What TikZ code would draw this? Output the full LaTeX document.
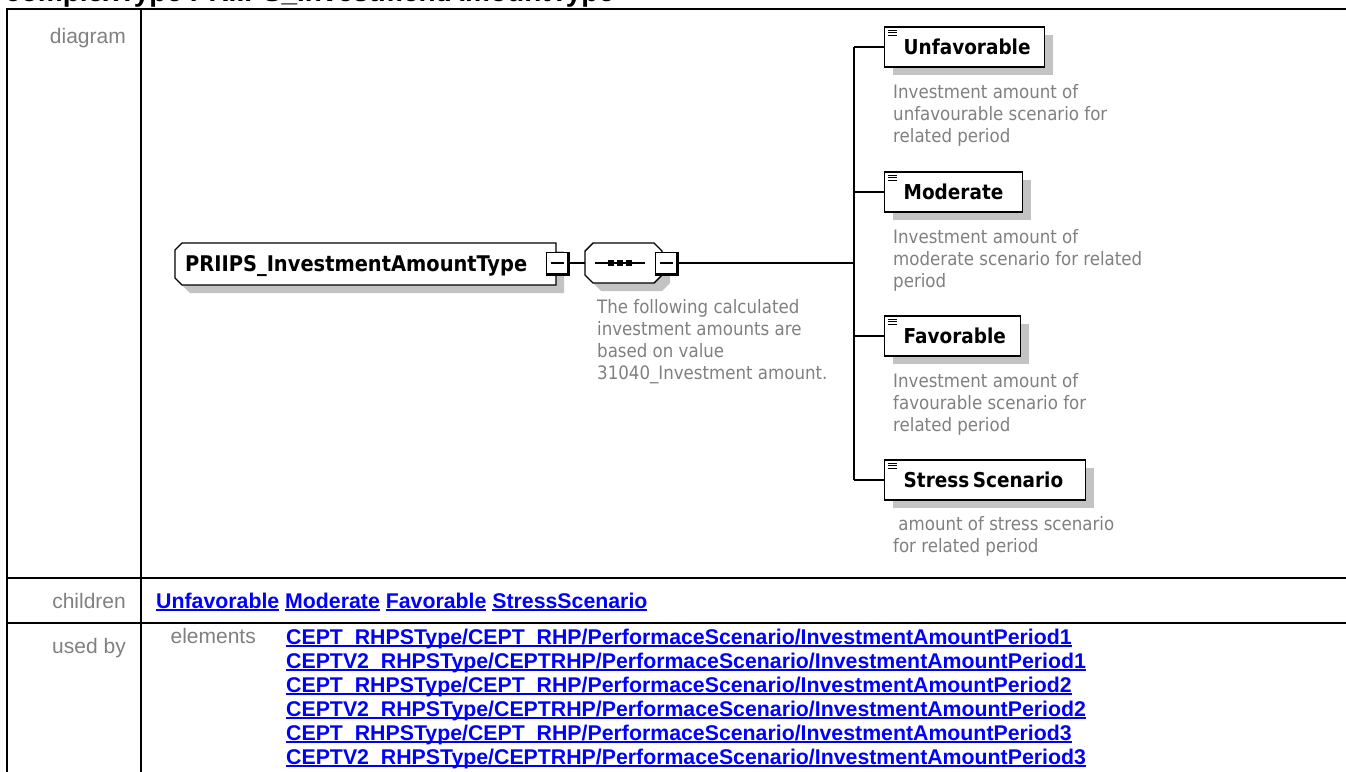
\documentclass[tikz,border=0pt]{standalone}
\usepackage{fontspec}
\setmainfont{Liberation Sans}
\newfontfamily\dvc{DejaVu Sans Condensed}
\usetikzlibrary{calc,shadows}
\definecolor{lblgray}{RGB}{128,128,128}
\definecolor{dscgray}{RGB}{128,128,128}
\definecolor{lnkblue}{RGB}{0,0,255}
\definecolor{shdgray}{RGB}{195,195,195}
\newcommand\lnkul[1]{\setbox0\hbox{#1}\rlap{\color{lnkblue}\rule[-2.6pt]{\wd0}{1.7pt}}\box0\relax}
\begin{document}
\begin{tikzpicture}[x=1pt,y=-1pt,
  tline/.style={line width=2pt},
  lbl/.style={anchor=base east, inner sep=0, text=lblgray, font=\fontsize{21}{24}\selectfont},
  lnk/.style={anchor=base west, inner sep=0, text=lnkblue, font=\fontsize{21.3}{24}\selectfont\bfseries},
  conn/.style={line width=1.3pt},
  shd/.style={drop shadow={shadow xshift=8pt, shadow yshift=-8pt, fill=shdgray, opacity=1}},
  chbox/.style={draw, line width=1.4pt, fill=white, shd, anchor=west, minimum height=40pt,
    inner xsep=19pt, inner ysep=0pt, align=left, font=\dvc\bfseries\fontsize{20.5}{24}\selectfont},
  desc/.style={anchor=north west, inner sep=0, align=left, text=dscgray, font=\dvc\fontsize{18.5}{22}\selectfont},
  mbox/.style={draw, line width=1.2pt, fill=white, minimum size=21pt, inner sep=0,
    path picture={\draw[line width=1.2pt] ($(path picture bounding box.west)+(4,0)$) -- ($(path picture bounding box.east)+(-4,0)$);}},
  octline/.style={draw, line width=1.4pt, fill=white},
]
\useasboundingbox (0,0) rectangle (1346,771);

% title (cut at top)
\node[anchor=base west, inner sep=0, font=\bfseries\fontsize{28}{32}\selectfont] (title) at (5,1.5) {complexType PRIIPS\_InvestmentAmountType};

% table grid
\draw[tline] (6.7,9) -- (1360,9);
\draw[tline] (6.7,578) -- (1360,578);
\draw[tline] (6.7,623) -- (1360,623);
\draw[tline] (6.7,8) -- (6.7,790);
\draw[tline] (141,8) -- (141,790);

% row labels
\node[lbl] (ldiag) at (126,43) {diagram};
\node[lbl] (lchil) at (126,608) {children};
\node[lbl] (lused) at (126,653) {used by};
\node[lbl] (lelem) at (256,643.5) {elements};

% children links
\node[lnk] (chl) at (156,608) {\lnkul{Unfavorable} \lnkul{Moderate} \lnkul{Favorable} \lnkul{StressScenario}};

% used-by links
\node[lnk] (u1) at (286,644) {\lnkul{CEPT\_RHPSType/CEPT\_RHP/PerformaceScenario/InvestmentAmountPeriod1}};
\node[lnk] (u2) at (286,668) {\lnkul{CEPTV2\_RHPSType/CEPTRHP/PerformaceScenario/InvestmentAmountPeriod1}};
\node[lnk] (u3) at (286,692) {\lnkul{CEPT\_RHPSType/CEPT\_RHP/PerformaceScenario/InvestmentAmountPeriod2}};
\node[lnk] (u4) at (286,716) {\lnkul{CEPTV2\_RHPSType/CEPTRHP/PerformaceScenario/InvestmentAmountPeriod2}};
\node[lnk] (u5) at (286,740) {\lnkul{CEPT\_RHPSType/CEPT\_RHP/PerformaceScenario/InvestmentAmountPeriod3}};
\node[lnk] (u6) at (286,764) {\lnkul{CEPTV2\_RHPSType/CEPTRHP/PerformaceScenario/InvestmentAmountPeriod3}};

% ---- diagram ----
% root box (cut left corners) with shadow
\fill[shdgray] (190,251) -- (564,251) -- (564,293) -- (190,293) -- (183,286) -- (183,258) -- cycle;
\path[octline] (182,243) -- (556,243) -- (556,285) -- (182,285) -- (175,278) -- (175,250) -- cycle;
\node[anchor=base west, inner sep=0, font=\dvc\bfseries\fontsize{21.6}{24}\selectfont] (root) at (185,271.8) {PRIIPS\_InvestmentAmountType};

% sequence compositor
\fill[shdgray] (601,251) -- (662,251) -- (670,259) -- (670,283) -- (662,291) -- (601,291) -- (593,283) -- (593,259) -- cycle;
\path[octline] (593,243) -- (654,243) -- (662,251) -- (662,275) -- (654,283) -- (593,283) -- (585,275) -- (585,251) -- cycle;
\node[draw=none, minimum width=77pt, minimum height=40pt, inner sep=0] (seq) at (623.5,263) {};
\draw[line width=1.2pt] (595,263) -- (645,263);
\foreach \dx in {611,620,629} \fill (\dx-2.6,260.4) rectangle (\dx+2.6,265.6);

% minus boxes
\node[mbox] (rootm) at (557,263) {};
\draw[line width=2.4pt] ($(rootm.north east)+(0.4,0)$) -- ($(rootm.south east)+(0.4,0.4)$) -- ($(rootm.south west)+(0,0.4)$);
\node[mbox] (seqm) at (666,263) {};
\draw[line width=2.4pt] ($(seqm.north east)+(0.4,0)$) -- ($(seqm.south east)+(0.4,0.4)$) -- ($(seqm.south west)+(0,0.4)$);

% children boxes
\node[chbox, text width=122pt] (unf) at (884,47) {Unfavorable};
\node[chbox, text width=100pt] (mod) at (884,192) {Moderate};
\node[chbox, text width=98pt] (fav) at (884,336) {Favorable};
\node[chbox, text width=163pt] (str) at (884,480) {Stress\,Scenario};
\foreach \n in {unf,mod,fav,str} {
  \foreach \dy in {4,6.6,9.2}
    \draw[line width=0.9pt] ($(\n.north west)+(4,\dy)$) -- ++(9,0);
}

% connectors
\draw[conn] (rootm.east) -- (seq.west);
\coordinate (bj) at (854,263);
\draw[conn] (seqm.east) -- (bj);
\draw[conn] (bj |- unf.west) -- (bj |- str.west);
\draw[conn] (bj |- unf.west) -- (unf.west);
\draw[conn] (bj |- mod.west) -- (mod.west);
\draw[conn] (bj |- fav.west) -- (fav.west);
\draw[conn] (bj |- str.west) -- (str.west);

% annotations
\node[desc] (dseq) at (597,299) {The following calculated\\investment amounts are\\based on value\\31040\_Investment amount.};
\node[desc] (dunf) at (893,84) {Investment amount of\\unfavourable scenario for\\related period};
\node[desc] (dmod) at (893,229) {Investment amount of\\moderate scenario for related\\period};
\node[desc] (dfav) at (893,373) {Investment amount of\\favourable scenario for\\related period};
\node[desc] (dstr) at (893,516) {\ amount of stress scenario\\for related period};
\end{tikzpicture}
\end{document}
